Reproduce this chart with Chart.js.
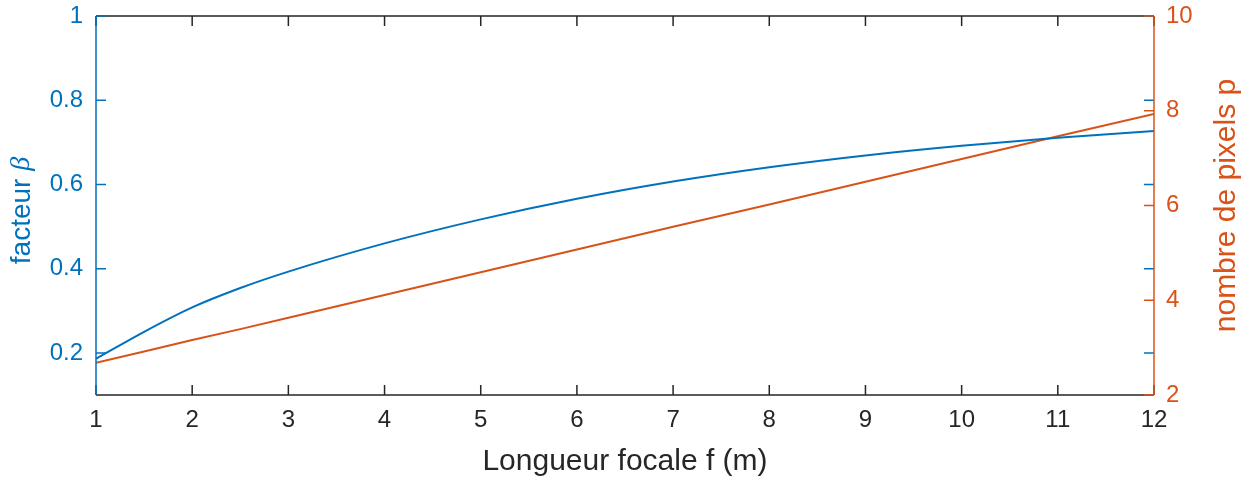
<!DOCTYPE html>
<html>
<head>
<meta charset="utf-8">
<script src="https://cdn.jsdelivr.net/npm/chart.js@4"></script>
<style>
  html, body { margin: 0; padding: 0; background: #fff; }
</style>
</head>
<body>
<canvas id="chart" width="1259" height="483"></canvas>
<script>
// values
const focal = [1, 1.5, 2, 2.5, 3, 4, 5, 6, 7, 8, 9, 10, 11, 12];
const beta = [0.186, 0.250, 0.308, 0.354, 0.393, 0.460, 0.517, 0.566, 0.607, 0.641, 0.669, 0.692, 0.711, 0.727];
const pixels = [2.68, 2.92, 3.16, 3.39, 3.63, 4.11, 4.59, 5.07, 5.55, 6.02, 6.5, 6.98, 7.46, 7.93];
const focalTicks = [1, 2, 3, 4, 5, 6, 7, 8, 9, 10, 11, 12];
const betaTicks = [0.2, 0.4, 0.6, 0.8, 1];
const pixelTicks = [2, 4, 6, 8, 10];

const BLUE = '#0072BD';
const ORANGE = '#D95319';
const DARK = '#262626';
const FONT = '"Liberation Sans", Arial, Helvetica, sans-serif';

// MATLAB-like box: inward ticks on every side, coloured y axes, rotated titles
const framePlugin = {
    id: 'frame',
    afterDraw(chart) {
        const { ctx, chartArea: a, scales } = chart;
        const len = 10;
        ctx.save();
        ctx.lineWidth = 1.5;

        ctx.strokeStyle = DARK;
        ctx.beginPath();
        ctx.moveTo(a.left, a.top); ctx.lineTo(a.right, a.top);
        ctx.moveTo(a.left, a.bottom); ctx.lineTo(a.right, a.bottom);
        focalTicks.forEach(v => {
            const px = scales.x.getPixelForValue(v);
            ctx.moveTo(px, a.bottom); ctx.lineTo(px, a.bottom - len);
            ctx.moveTo(px, a.top); ctx.lineTo(px, a.top + len);
        });
        ctx.stroke();

        ctx.strokeStyle = BLUE;
        ctx.beginPath();
        ctx.moveTo(a.left, a.top); ctx.lineTo(a.left, a.bottom);
        betaTicks.forEach(v => {
            const py = scales.yLeft.getPixelForValue(v);
            ctx.moveTo(a.left, py); ctx.lineTo(a.left + len, py);
            ctx.moveTo(a.right, py); ctx.lineTo(a.right - len, py);
        });
        ctx.stroke();

        ctx.strokeStyle = ORANGE;
        ctx.beginPath();
        ctx.moveTo(a.right, a.top); ctx.lineTo(a.right, a.bottom);
        pixelTicks.forEach(v => {
            const py = scales.yRight.getPixelForValue(v);
            ctx.moveTo(a.right, py); ctx.lineTo(a.right - len, py);
        });
        ctx.stroke();

        // axis titles, both reading bottom to top
        const midY = (a.top + a.bottom) / 2;
        ctx.textBaseline = 'middle';

        ctx.save();
        ctx.translate(22, midY + 5);
        ctx.rotate(-Math.PI / 2);
        ctx.fillStyle = BLUE;
        const part1 = 'facteur ';
        ctx.font = '28px ' + FONT;
        const w1 = ctx.measureText(part1).width;
        ctx.font = 'italic 28px "Liberation Serif", serif';
        const w2 = ctx.measureText('β').width;
        const sx = -(w1 + w2) / 2;
        ctx.textAlign = 'left';
        ctx.font = '28px ' + FONT;
        ctx.fillText(part1, sx, 0);
        ctx.font = 'italic 28px "Liberation Serif", serif';
        ctx.fillText('β', sx + w1, 0);
        ctx.restore();

        ctx.save();
        ctx.translate(1227, midY);
        ctx.rotate(-Math.PI / 2);
        ctx.fillStyle = ORANGE;
        ctx.font = '30px ' + FONT;
        ctx.textAlign = 'center';
        ctx.fillText('nombre de pixels p', 0, 0);
        ctx.restore();

        ctx.restore();
    }
};

const ctx = document.getElementById('chart').getContext('2d');

const config = {
    type: 'line',
    data: {
        datasets: [
            {
                label: 'facteur β',
                data: focal.map((f, i) => ({ x: f, y: beta[i] })),
                borderColor: BLUE,
                borderWidth: 2,
                pointRadius: 0,
                cubicInterpolationMode: 'monotone',
                yAxisID: 'yLeft',
            },
            {
                label: 'nombre de pixels p',
                data: focal.map((f, i) => ({ x: f, y: pixels[i] })),
                borderColor: ORANGE,
                borderWidth: 2,
                pointRadius: 0,
                yAxisID: 'yRight',
            },
        ],
    },
    options: {
        responsive: false,
        animation: false,
        events: [],
        layout: { padding: { top: 16, left: 0, right: 0, bottom: 0 } },
        plugins: {
            legend: { display: false },
            tooltip: { enabled: false },
        },
        scales: {
            x: {
                type: 'linear',
                min: 1,
                max: 12,
                afterBuildTicks: s => { s.ticks = focalTicks.map(v => ({ value: v })); },
                afterFit: s => { s.height = 88; s.paddingLeft = 0; s.paddingRight = 0; },
                grid: { display: false, drawTicks: false },
                border: { display: false },
                ticks: { color: DARK, padding: 11, maxRotation: 0, autoSkip: false, font: { size: 24, family: FONT } },
                title: {
                    display: true,
                    text: 'Longueur focale f (m)',
                    color: DARK,
                    padding: { top: 0, bottom: 3 },
                    font: { size: 30, family: FONT },
                },
            },
            yLeft: {
                position: 'left',
                min: 0.1,
                max: 1,
                afterBuildTicks: s => { s.ticks = betaTicks.map(v => ({ value: v })); },
                afterFit: s => { s.width = 96; s.paddingTop = 0; s.paddingBottom = 0; },
                grid: { display: false, drawTicks: false },
                border: { display: false },
                ticks: {
                    color: BLUE, padding: 13, font: { size: 24, family: FONT },
                    callback: v => String(v),
                },
            },
            yRight: {
                position: 'right',
                min: 2,
                max: 10,
                afterBuildTicks: s => { s.ticks = pixelTicks.map(v => ({ value: v })); },
                afterFit: s => { s.width = 105; s.paddingTop = 0; s.paddingBottom = 0; },
                grid: { display: false, drawTicks: false },
                border: { display: false },
                ticks: {
                    color: ORANGE, padding: 12, font: { size: 24, family: FONT },
                    callback: v => String(v),
                },
            },
        },
    },
    plugins: [framePlugin],
};

const myChart = new Chart(ctx, config);
</script>
</body>
</html>
